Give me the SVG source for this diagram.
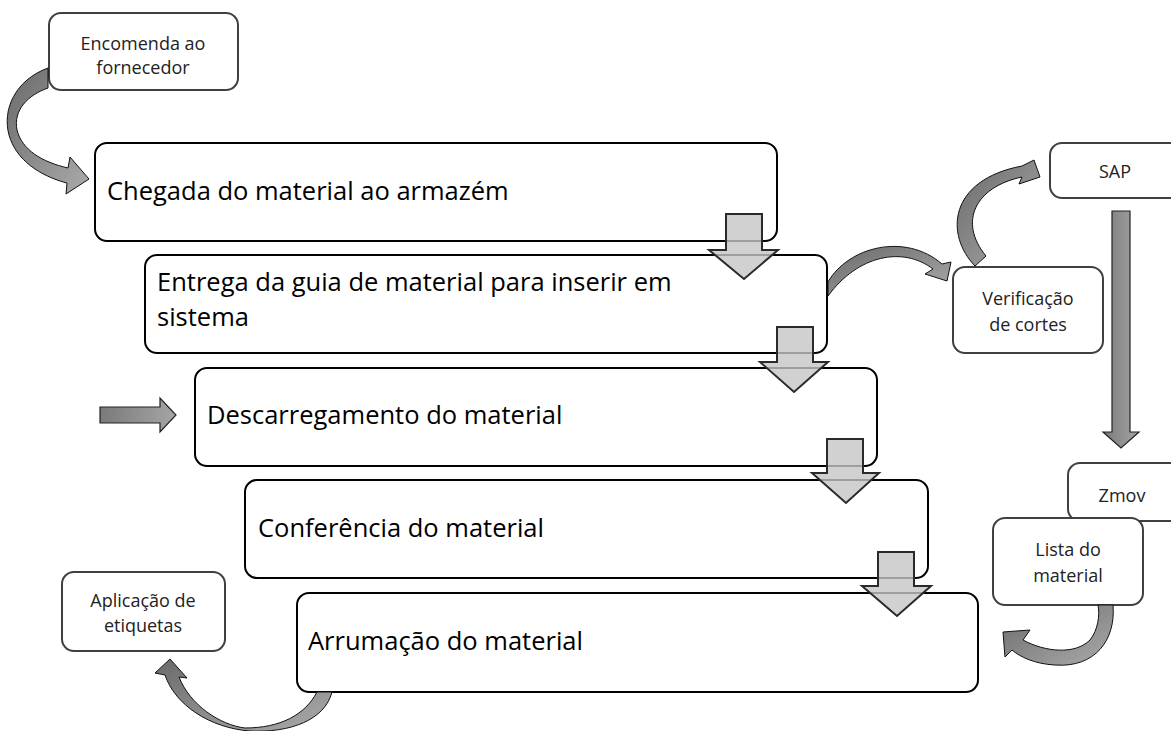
<svg xmlns="http://www.w3.org/2000/svg" width="1171" height="731" viewBox="0 0 1171 731">
  <style>
    .main { fill: #ffffff; stroke: #000000; stroke-width: 2; }
    .small { fill: #ffffff; stroke: #404040; stroke-width: 2; }
    .mt { font-family: "Open Sans", "Noto Sans", sans-serif; font-size: 25.5px; fill: #000000; }
    .st { font-family: "Open Sans", "Noto Sans", sans-serif; font-size: 18px; fill: #222222; text-anchor: middle; }
    .blk { fill: #c6c6c6; fill-opacity: 0.8; stroke: #2a2a2a; stroke-width: 2; stroke-linejoin: miter; }
    .crv { fill: url(#g1); stroke: #111111; stroke-width: 1; stroke-linejoin: round; }
    .vrt { fill: url(#g2); stroke: #222222; stroke-width: 1.2; }
  </style>
  <defs>
    <linearGradient id="g1" x1="0" y1="0" x2="1" y2="1">
      <stop offset="0" stop-color="#6a6a6a"/>
      <stop offset="1" stop-color="#ababab"/>
    </linearGradient>
    <linearGradient id="g2" x1="0" y1="0" x2="1" y2="0">
      <stop offset="0" stop-color="#7a7a7a"/>
      <stop offset="1" stop-color="#a5a5a5"/>
    </linearGradient>
  </defs>

  <rect width="1171" height="731" fill="#ffffff"/>

  <g id="encomenda">
    <rect class="small" x="49" y="13" width="189" height="77" rx="12"/>
    <text class="st" x="143" y="50">Encomenda ao</text>
    <text class="st" x="143" y="74">fornecedor</text>
  </g>

  <g id="chegada">
    <rect class="main" x="95" y="143" width="682" height="98" rx="12"/>
    <text class="mt" x="107" y="200">Chegada do material ao armazém</text>
  </g>

  <g id="entrega">
    <rect class="main" x="145" y="255" width="682" height="98" rx="12"/>
    <text class="mt" x="157" y="291">Entrega da guia de material para inserir em</text>
    <text class="mt" x="157" y="326">sistema</text>
  </g>

  <g id="descarregamento">
    <rect class="main" x="195" y="368" width="682" height="98" rx="12"/>
    <text class="mt" x="207" y="424">Descarregamento do material</text>
  </g>

  <g id="conferencia">
    <rect class="main" x="245" y="480" width="683" height="98" rx="12"/>
    <text class="mt" x="258" y="537">Conferência do material</text>
  </g>

  <g id="arrumacao">
    <rect class="main" x="297" y="593" width="681" height="99" rx="12"/>
    <text class="mt" x="308" y="650">Arrumação do material</text>
  </g>

  <g id="sap">
    <rect class="small" x="1050" y="143" width="140" height="55" rx="12"/>
    <text class="st" x="1115" y="178">SAP</text>
  </g>

  <g id="verificacao">
    <rect class="small" x="953" y="267" width="150" height="86" rx="12"/>
    <text class="st" x="1028" y="305">Verificação</text>
    <text class="st" x="1028" y="331">de cortes</text>
  </g>

  <g id="zmov">
    <rect class="small" x="1068" y="463" width="120" height="58" rx="12"/>
    <text class="st" x="1122" y="502">Zmov</text>
  </g>

  <g id="lista">
    <rect class="small" x="993" y="518" width="150" height="87" rx="12"/>
    <text class="st" x="1068" y="556">Lista do</text>
    <text class="st" x="1068" y="582">material</text>
  </g>

  <g id="aplicacao">
    <rect class="small" x="62" y="572" width="163" height="79" rx="12"/>
    <text class="st" x="143" y="607">Aplicação de</text>
    <text class="st" x="143" y="632">etiquetas</text>
  </g>

  <g id="connectors">
    <path class="blk" d="M726,214 H762 V250 H778 L744,279 L709,250 H726 Z"/>
    <path class="blk" d="M777,327 H813 V362 H828 L794,392 L760,362 H777 Z"/>
    <path class="blk" d="M827,439 H863 V473 H879 L846,503 L812,473 H827 Z"/>
    <path class="blk" d="M878,552 H914 V586 H931 L897,616 L862,586 H878 Z"/>

    <path class="crv" d="M48,68 C 15,80 2,110 9,135 C 16,160 40,176 67,183 L66,194 L89,179 L70,157 L68,168 C 42,162 22,150 17,130 C 13,110 28,95 48,88 Z"/>

    <path class="crv" d="M828,282 C 848,247 905,232 942,264 L951,262 L947,281 L925,274 L933,269 C 903,246 858,255 828,296 Z"/>

    <path class="crv" d="M975,266 C 945,235 948,180 1022,166 L1034,160 L1040,177 L1019,184 L1022,177 C 975,187 958,222 986,256 Z"/>

    <path class="vrt" d="M1112,211 H1130 V432 H1139 L1121,448 L1103,432 H1112 Z"/>

    <path class="crv" d="M1098,605 L1113,605 C 1116,640 1095,668 1055,665 C 1035,664 1020,657 1012,650 L1005,657 L1003,632 L1030,630 L1023,640 C 1045,652 1075,655 1090,640 C 1098,630 1100,615 1098,605 Z"/>

    <path class="crv" d="M317,692 L332,692 C 325,720 290,733 250,731 C 210,728 175,705 165,675 L155,673 L170,659 L187,678 L179,677 C 190,705 220,725 245,728 C 280,728 305,715 317,692 Z"/>

    <path class="vrt" d="M100,407 H160 V398 L176,415 L160,432 V423 H100 Z"/>
  </g>
</svg>
